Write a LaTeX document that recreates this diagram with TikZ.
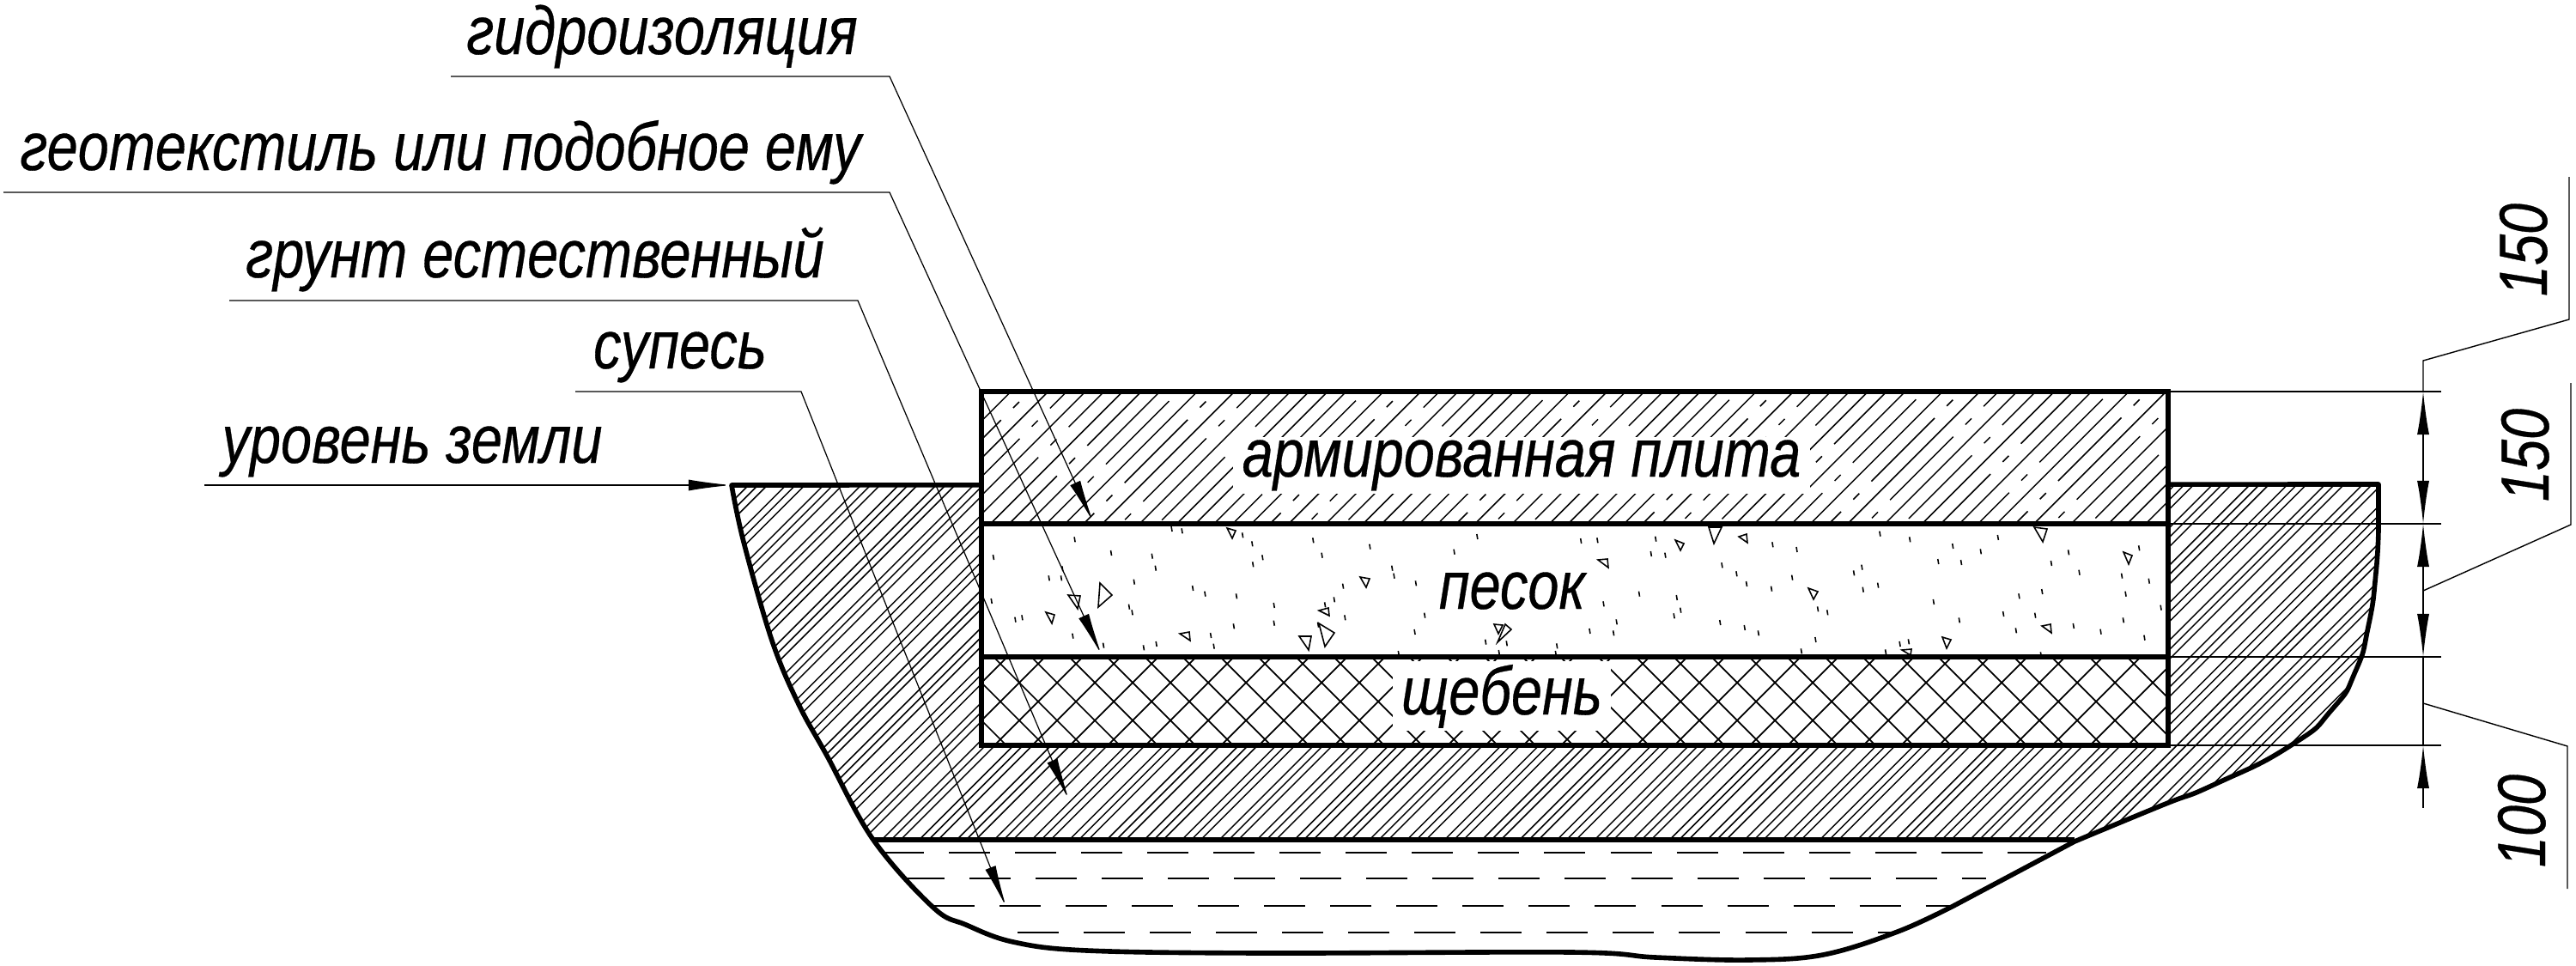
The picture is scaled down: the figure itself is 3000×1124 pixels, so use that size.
\documentclass[tikz,border=0pt]{standalone}
\usepackage{fontspec}
\setmainfont{Liberation Sans}[FakeStretch=0.82,FakeBold=0.4]
\usetikzlibrary{arrows.meta}
\tikzset{
  txt/.style={anchor=base,inner sep=0pt,font=\fontsize{22.5pt}{27pt}\selectfont\itshape},
  txtw/.style={txt,fill=white,inner xsep=3pt,inner ysep=1pt},
  dimtxt/.style={txt,rotate=90},
  bold/.style={line width=1.5pt,line join=miter},
  pit/.style={line width=1.6pt,line join=round},
  thin1/.style={line width=0.4pt},
  hatch/.style={line width=0.42pt},
  leader/.style={line width=0.35pt,-{Latex[length=5mm,width=1.3mm]}},
  dimline/.style={line width=0.4pt,{Latex[length=5mm,width=1.4mm]}-{Latex[length=5mm,width=1.4mm]}},
  claydash/.style={line width=0.8pt,dash pattern=on 0.48cm off 0.29cm},
  grain/.style={line width=0.45pt}
}
\newcommand{\pitpath}{(852,565) -- plot[smooth,tension=0.6] coordinates {(852,565) (866,631) (899,746) (930,820) (963,880) (1017,978) (1087,1057) (1125,1077) (1180,1097) (1266,1107) (1472,1110) (1830,1109) (1928,1115) (2036,1118) (2123,1112) (2210,1085) (2275,1055)} -- (2416,980) -- plot[smooth,tension=1] coordinates {(2416,980) (2515,939) (2580,913) (2668,868) (2716,826) (2743,782) (2758,730) (2767,667) (2770,610)} -- (2770,564) -- cycle}
\begin{document}
\begin{tikzpicture}[x=0.01cm,y=-0.01cm]
  \useasboundingbox (0,0) rectangle (3000,1124);
  % ground
  \begin{scope}
    \clip \pitpath;
    \clip (0,0) rectangle (3000,978);
    \foreach \k in {-18,...,40} \foreach \d in {0,11,22} {
      \pgfmathsetmacro{\c}{3141-43.7*\k+\d}
      \draw[hatch] (\c-1200,1200) -- (\c-400,400);
    }
  \end{scope}
  \draw[pit] \pitpath;
  \draw[line width=1.5pt] (1017,978) -- (2416,978);
  % clay
  \draw[claydash] (1028,993) -- (2383,993);
  \draw[claydash] (1052,1023) -- (2313,1023);
  \draw[claydash] (1087,1055) -- (2275,1055);
  \draw[claydash] (1185,1086) -- (2210,1086);
  % layers
  \fill[white] (1143,456) rectangle (2525,868);
  \begin{scope}
    \clip (1143,456) rectangle (2525,610);
    \foreach \k in {-2,...,36} {
      \draw[hatch,dash pattern=on 0.1cm off 0.2cm on 1.04cm off 0.2cm] (1180+21.7*\k-218,475+21.7*\k+218) -- ++(1100,-1100);
      \pgfmathsetmacro{\c}{1676.7+43.4*\k}
      \draw[hatch] (\c-1200,1200) -- (\c-400,400);
    }
  \end{scope}
  \begin{scope}
    \clip (1143,765) rectangle (2525,868);
    \foreach \k in {-3,...,36} {
      \pgfmathsetmacro{\c}{1982+44*\k}
      \draw[hatch,line width=0.5pt] (\c-1200,1200) -- (\c-400,400);
      \pgfmathsetmacro{\e}{392+44*\k}
      \draw[hatch,line width=0.5pt] (\e+400,400) -- (\e+1200,1200);
    }
  \end{scope}
  % sand
  \foreach \a/\b/\c/\d/\e/\f in {1281/679/1295/693/1279/707,1244/693/1258/694/1255/709,1218/713/1228/716/1225/726,1429/615/1439/618/1435/627,1584/672/1595/674/1591/684,1536/711/1547/708/1548/717,1536/726/1554/737/1543/753,1513/741/1527/741/1524/757,1374/738/1385/736/1386/746,1740/727/1750/728/1745/738,1753/727/1760/733/1744/748,1951/629/1961/633/1957/641,1990/614/2005/614/1996/633,2025/625/2034/622/2035/632,1861/652/1872/651/1873/661,2106/685/2117/689/2112/698,2369/614/2384/616/2379/631,2473/643/2483/647/2479/657,2378/729/2388/727/2389/737,2262/742/2272/745/2267/755,2215/757/2226/756/2225/763}
    \draw[grain] (\a,\b) -- (\c,\d) -- (\e,\f) -- cycle;
  \foreach \x/\y in {38/132,250/70,345/117,452/128,461/170,530/40,503/33,713/85,688/55,740/133,715/157,872/73,1020/95,895/125,1078/170,1083/197,1240/113,1300/60,1140/223,950/233,927/280,770/300,672/268,590/260,558/240,405/218,392/305,400/325,183/205,215/205,218/172,33/285,95/350,113/343,245/407,325/440,430/448,463/435,605/405,613/443,665/373,770/362,955/343,903/298,1163/335,1137/393,1322/428,1377/433,1357/465,1508/442,1095/468,1505/468,885/368}
    \draw[grain] (1140+\x/2.24-0.5,605+\y/3-3) -- ++(1,6);
  \foreach \x/\y in {25/75,68/73,220/68,208/120,245/125,525/88,588/105,805/50,883/70,995/93,1068/112,1113/63,1297/115,1481/100,393/160,431/190,457/225,522/242,576/203,737/187,758/167,761/245,800/230,957/147,1017/150,1252/153,1325/185,1436/197,1507/215,177/260,275/273,84/295,285/317,268/337,118/358,48/390,110/397,388/360,452/378,488/397,637/420,600/460,643/313,668/325,1168/268,1228/252,1446/260,945/288,1127/330,1210/335,1012/352,1160/388,1310/372,1381/392,1440/352,1495/413,1538/308,857/435,880/427,820/463,1225/472}
    \draw[grain] (1830+\x/2.24-0.5,605+\y/3-3) -- ++(1,6);
  % labels inside
  \node(plita) [txtw] at (1772,555) {армированная плита};
  \node(pesok) [txt] at (1761,709) {песок};
  \node(sheben) [txtw] at (1749,832) {щебень};
  \draw[bold] (1143,456) rectangle (2525,868);
  \draw[bold] (1143,610) -- (2525,610);
  \draw[bold] (1143,765) -- (2525,765);
  % leaders
  \node(gidro) [txt] at (771,63) {гидроизоляция};
  \node(geotex) [txt] at (513,198) {геотекстиль или подобное ему};
  \node(grunt) [txt] at (623,323) {грунт естественный};
  \node(supes) [txt] at (792,429) {супесь};
  \node(uroven) [txt] at (480,539) {уровень земли};
  \coordinate (g0) at (525,89); \coordinate (g1) at (1036,89); \coordinate (g2) at (1273,608);
  \coordinate (t0) at (4,224); \coordinate (t1) at (1036,224); \coordinate (t2) at (1283,763);
  \coordinate (e0) at (267,350); \coordinate (e1) at (999,350); \coordinate (e2) at (1245,932);
  \coordinate (s0) at (670,456); \coordinate (s1) at (933,456); \coordinate (s2) at (1172,1057);
  \coordinate (u0) at (238,565); \coordinate (u1) at (852,565);
  \draw[leader] (g0) -- (g1) -- (g2);
  \draw[leader] (t0) -- (t1) -- (t2);
  \draw[leader] (e0) -- (e1) -- (e2);
  \draw[leader] (s0) -- (s1) -- (s2);
  \draw[leader] (u0) -- (u1);
  % dimensions
  \coordinate (d0) at (2822,456); \coordinate (d1) at (2822,610);
  \coordinate (d2) at (2822,765); \coordinate (d3) at (2822,868);
  \coordinate (d4) at (2822,941);
  \draw[thin1] (2525,456) -- (2843,456);
  \draw[thin1] (2525,610) -- (2843,610);
  \draw[thin1] (2525,765) -- (2843,765);
  \draw[thin1] (2525,868) -- (2843,868);
  \draw[dimline] (d0) -- (d1);
  \draw[dimline] (d1) -- (d2);
  \draw[thin1] (d2) -- (d3);
  \draw[dimline,{Latex[length=5mm,width=1.4mm]}-] (d3) -- (d4);
  \node(dimA) [dimtxt,anchor=base] at (2966,291) {150};
  \node(dimB) [dimtxt,anchor=base] at (2968,530) {150};
  \node(dimC) [dimtxt,anchor=base] at (2964,956) {100};
  \draw[thin1] (d0) -- (2822,420) -- (2992,372) -- (2992,206);
  \draw[thin1] (2822,688) -- (2994,611) -- (2994,446);
  \draw[thin1] (2822,819) -- (2990,869) -- (2990,1035);
\end{tikzpicture}
\end{document}
